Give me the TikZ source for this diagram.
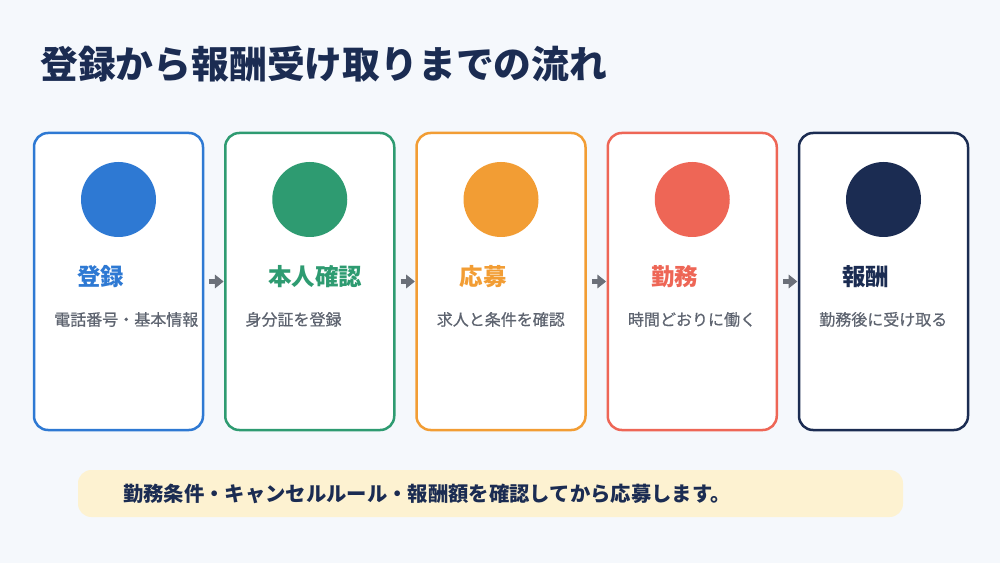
\documentclass[tikz,border=0pt]{standalone}
\usepackage{fontspec}
\setmainfont{Noto Sans CJK JP}
\newfontfamily\submed[FakeBold=0.6]{Noto Sans CJK JP}
\usetikzlibrary{arrows.meta}
\definecolor{bg}{HTML}{F5F8FC}
\definecolor{navy}{HTML}{1B2C52}
\definecolor{cblue}{HTML}{2E79D3}
\definecolor{cgreen}{HTML}{2E9B71}
\definecolor{corange}{HTML}{F29D34}
\definecolor{cred}{HTML}{EE6656}
\definecolor{subgrey}{HTML}{5E6470}
\definecolor{arrgrey}{HTML}{6B7079}
\definecolor{noteyellow}{HTML}{FDF2D1}
\tikzset{
  card/.style={draw, fill=white, line width=1.875pt, rounded corners=10.5pt,
    minimum width=126.75pt, minimum height=222.75pt, inner sep=0pt},
  dot/.style={circle, minimum size=56.25pt, inner sep=0pt},
  headtxt/.style={anchor=base west, inner sep=0pt, font=\fontsize{17.6}{20}\selectfont\bfseries},
  subtxt/.style={anchor=base west, inner sep=0pt, text=subgrey, font=\submed\fontsize{12}{14}\selectfont},
  flowarrow/.style={draw=arrgrey, line width=3.2pt, -{Triangle[length=6.5pt,width=10pt]}, shorten >=0.3pt},
  notebox/.style={fill=noteyellow, rounded corners=10pt, minimum width=618.75pt, minimum height=35.25pt, inner sep=0pt},
  notetxt/.style={anchor=base west, inner sep=0pt, text=navy, font=\fontsize{15.25}{18}\selectfont\bfseries},
  titletxt/.style={anchor=base west, inner sep=0pt, text=navy, font=\fontsize{28.35}{32}\selectfont\bfseries}
}
\begin{document}
\begin{tikzpicture}[x=0.75pt,y=-0.75pt]
\useasboundingbox[fill=bg] (0,0) rectangle (1000,563);
\node[titletxt] (title) at (40,79) {登録から報酬受け取りまでの流れ};
\foreach \i/\c/\h/\s in {1/cblue/登録/電話番号・基本情報, 2/cgreen/本人確認/身分証を登録, 3/corange/応募/求人と条件を確認, 4/cred/勤務/時間どおりに働く, 5/navy/報酬/勤務後に受け取る} {
  \pgfmathsetmacro\L{34+191.25*(\i-1)}
  \node[card, draw=\c] (c\i) at (\L+84.5,281.5) {};
  \node[dot, fill=\c] (d\i) at (\L+84.5,199.5) {};
  \node[headtxt, text=\c] (h\i) at (\L+43,285) {\h};
  \node[subtxt] (s\i) at (\L+20,325.5) {\s};
}
\foreach \a/\b in {1/2, 2/3, 3/4, 4/5} {
  \draw[flowarrow] ([xshift=3.75pt]c\a.east) -- (c\b.west);
}
\node[notebox] (note) at (490.5,493.5) {};
\node[notetxt] (notetext) at (123,501.5) {勤務条件・キャンセルルール・報酬額を確認してから応募します。};
\end{tikzpicture}
\end{document}
